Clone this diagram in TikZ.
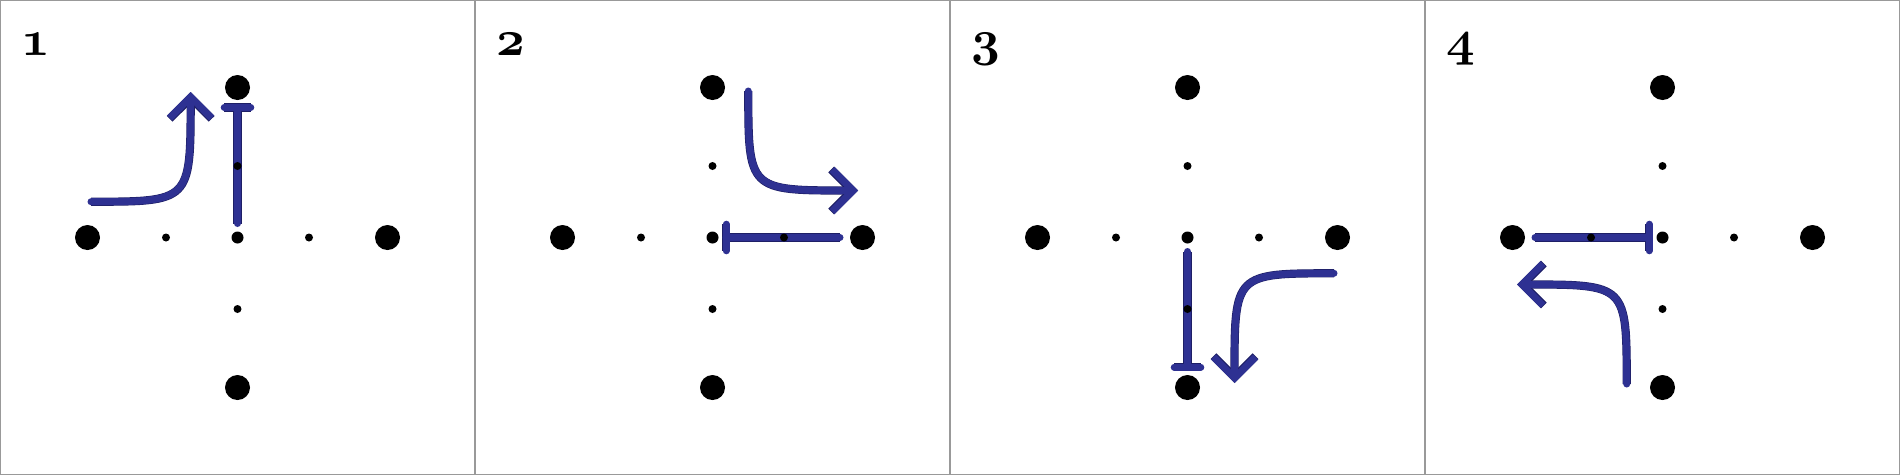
\documentclass[tikz,border=0pt]{standalone}
\usetikzlibrary{arrows.meta,calc}
\definecolor{lane}{HTML}{2E3192}
\definecolor{laneedge}{HTML}{1E1F66}
\tikzset{
 bigdot/.style={circle,fill=black,inner sep=0pt,minimum size=25pt},
 middot/.style={circle,fill=black,inner sep=0pt,minimum size=12pt},
 smalldot/.style={circle,fill=black,inner sep=0pt,minimum size=8pt},
 lanepath/.style={draw=lane,line width=7pt,line cap=round,preaction={draw=laneedge,line width=8.2pt}},
 turnarrow/.style={lanepath,-{Straight Barb[length=21pt,width=42pt,line cap=butt,line join=miter]}},
 frame/.style={draw=black!40,line width=1.2pt},
 num/.style={anchor=base west,inner sep=0pt,scale=5,font=\fontsize{10}{12}\usefont{OML}{cmm}{b}{it}}
}
\newcommand\junctiondots[1]{%
 \node[bigdot] (#1-N) at (237.5,87.5) {};
 \node[bigdot] (#1-S) at (237.5,387.5) {};
 \node[bigdot] (#1-W) at (87.5,237.5) {};
 \node[bigdot] (#1-E) at (387.5,237.5) {};
 \node[middot] (#1-C) at (237.5,237.5) {};
 \node[smalldot] (#1-n) at (237.5,166) {};
 \node[smalldot] (#1-s) at (237.5,309) {};
 \node[smalldot] (#1-w) at (166,237.5) {};
 \node[smalldot] (#1-e) at (309,237.5) {};
}
\begin{document}
\begin{tikzpicture}[x=1pt,y=-1pt]
\useasboundingbox (0,0) rectangle (1900,475);
\draw[frame] (0.6,0.6) rectangle (1899.4,474.4);
\draw[frame] (475,0) -- (475,475) (950,0) -- (950,475) (1425,0) -- (1425,475);
% panel 1
\begin{scope}
 \node[num] (lab1) at (20,55) {1};
 \coordinate (a-A) at (91,201.7);
 \coordinate (a-K) at (190.5,201.7);
 \coordinate (a-Z) at (190.7,92);
 \draw[turnarrow] (a-A) .. controls (a-K) and (a-K) .. (a-Z);
 \coordinate (a-F) at (237.5,223.5);
 \coordinate (a-T) at (237.5,107.5);
 \draw[lanepath] (a-F) -- (a-T) ($(a-T)+(-13.3,0)$) -- ($(a-T)+(13.3,0)$);
 \junctiondots{a}
\end{scope}
% panel 2
\begin{scope}[shift={(475,0)}]
 \node[num] (lab2) at (20,55) {2};
 \coordinate (b-A) at (273.3,91);
 \coordinate (b-K) at (273.3,190.5);
 \coordinate (b-Z) at (383,190.5);
 \draw[turnarrow] (b-A) .. controls (b-K) and (b-K) .. (b-Z);
 \coordinate (b-F) at (365,237.5);
 \coordinate (b-T) at (251,237.5);
 \draw[lanepath] (b-F) -- (b-T) ($(b-T)+(0,-13.3)$) -- ($(b-T)+(0,13.3)$);
 \junctiondots{b}
\end{scope}
% panel 3
\begin{scope}[shift={(950,0)}]
 \node[num] (lab3) at (20,55) {3};
 \coordinate (c-A) at (384,273.3);
 \coordinate (c-K) at (284.5,273.3);
 \coordinate (c-Z) at (284.5,383);
 \draw[turnarrow] (c-A) .. controls (c-K) and (c-K) .. (c-Z);
 \coordinate (c-F) at (237.5,251.5);
 \coordinate (c-T) at (237.5,367);
 \draw[lanepath] (c-F) -- (c-T) ($(c-T)+(-13.3,0)$) -- ($(c-T)+(13.3,0)$);
 \junctiondots{c}
\end{scope}
% panel 4
\begin{scope}[shift={(1425,0)}]
 \node[num] (lab4) at (20,55) {4};
 \coordinate (d-A) at (201.7,384);
 \coordinate (d-K) at (201.7,284.5);
 \coordinate (d-Z) at (92,284.5);
 \draw[turnarrow] (d-A) .. controls (d-K) and (d-K) .. (d-Z);
 \coordinate (d-F) at (110,237.5);
 \coordinate (d-T) at (224,237.5);
 \draw[lanepath] (d-F) -- (d-T) ($(d-T)+(0,-13.3)$) -- ($(d-T)+(0,13.3)$);
 \junctiondots{d}
\end{scope}
\end{tikzpicture}
\end{document}
